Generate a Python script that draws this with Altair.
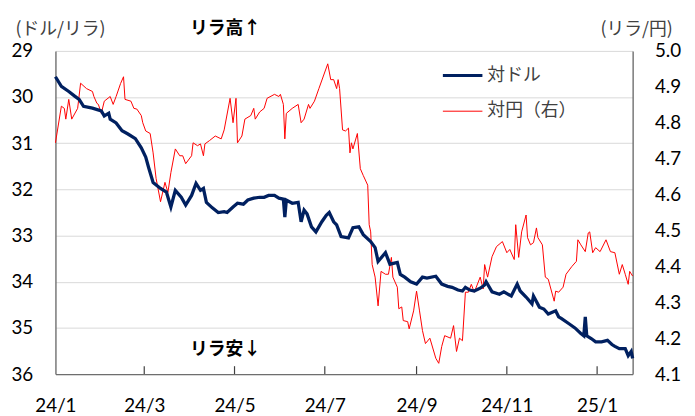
import altair as alt
import pandas as pd

# ---- data ----
# days since 2024-01-01
usd_days = [0, 4, 9, 13, 16, 19, 25, 31, 33, 36, 37, 41, 45, 49, 54, 58, 61, 63, 66, 71,
            75, 78, 81, 85, 88, 92, 95, 98, 100, 102, 106, 110, 114, 116, 120, 123, 127, 130, 134, 138,
            141, 144, 148, 151, 154, 155, 156, 160, 164, 166, 168, 170, 173, 176, 180, 183, 185, 188, 190, 193,
            198, 201, 205, 208, 213, 216, 218, 223, 226, 231, 233, 236, 240, 244, 248, 251, 257, 261, 265, 268,
            272, 275, 277, 280, 283, 287, 290, 291, 295, 300, 303, 308, 312, 314, 318, 322, 323, 327, 330, 333,
            338, 340, 342, 347, 351, 355, 357, 358, 359, 362, 365, 369, 373, 376, 378, 381, 385, 387, 389, 390]
usd_vals = [29.56, 29.77, 29.88, 29.98, 30.05, 30.20, 30.24, 30.30, 30.41, 30.35, 30.48, 30.56, 30.73, 30.80, 30.90, 31.10, 31.30, 31.53, 31.85, 31.98,
            32.06, 32.38, 32.02, 32.17, 32.34, 32.13, 31.87, 32.02, 31.98, 32.28, 32.40, 32.50, 32.48, 32.50, 32.38, 32.30, 32.32, 32.23, 32.19, 32.17,
            32.17, 32.13, 32.13, 32.19, 32.21, 32.60, 32.23, 32.30, 32.28, 32.70, 32.45, 32.53, 32.81, 32.92, 32.70, 32.56, 32.50, 32.70, 32.77, 33.02,
            33.05, 32.83, 32.81, 32.98, 33.13, 33.26, 33.56, 33.37, 33.62, 33.58, 33.84, 33.90, 34.00, 34.05, 33.90, 33.92, 33.88, 34.05, 34.10, 34.12,
            34.18, 34.20, 34.12, 34.18, 34.20, 34.14, 34.07, 34.00, 34.22, 34.27, 34.22, 34.31, 34.05, 34.20, 34.33, 34.48, 34.31, 34.55, 34.59, 34.70,
            34.63, 34.76, 34.80, 34.91, 35.00, 35.12, 35.17, 34.76, 35.17, 35.23, 35.30, 35.30, 35.27, 35.36, 35.40, 35.45, 35.45, 35.60, 35.51, 35.66]

jpy_days = [0, 4, 6, 7, 9, 11, 15, 17, 21, 25, 26, 28, 29, 31, 33, 37, 39, 41, 44, 46,
            47, 51, 53, 55, 58, 59, 61, 64, 66, 68, 71, 74, 76, 78, 81, 84, 86, 88, 92, 93,
            96, 98, 100, 101, 104, 108, 112, 114, 118, 120, 122, 123, 126, 128, 132, 134, 135, 138, 141, 143,
            148, 151, 152, 154, 155, 156, 160, 164, 166, 168, 171, 172, 175, 178, 184, 186, 188, 190, 191, 192,
            194, 196, 198, 199, 200, 201, 204, 206, 208, 211, 212, 213, 214, 216, 218, 220, 223, 225, 227, 228,
            231, 232, 234, 235, 238, 239, 242, 244, 246, 248, 250, 253, 257, 259, 261, 263, 267, 269, 271, 273,
            275, 277, 279, 281, 283, 287, 289, 290, 292, 295, 298, 302, 305, 307, 310, 311, 313, 315, 318, 319,
            321, 323, 325, 326, 329, 331, 333, 337, 338, 340, 343, 345, 349, 352, 353, 355, 358, 360, 361, 363,
            365, 368, 372, 375, 378, 381, 383, 385, 387, 388, 390]
jpy_vals = [4.744, 4.846, 4.840, 4.810, 4.865, 4.810, 4.840, 4.910, 4.895, 4.887, 4.873, 4.854, 4.851, 4.826, 4.860, 4.873, 4.851, 4.873, 4.909, 4.928,
            4.865, 4.860, 4.840, 4.838, 4.820, 4.800, 4.777, 4.770, 4.716, 4.645, 4.580, 4.634, 4.606, 4.661, 4.727, 4.708, 4.708, 4.686, 4.708, 4.744,
            4.736, 4.741, 4.708, 4.741, 4.750, 4.763, 4.755, 4.780, 4.868, 4.800, 4.868, 4.744, 4.763, 4.810, 4.820, 4.840, 4.810, 4.830, 4.840, 4.868,
            4.879, 4.873, 4.879, 4.851, 4.755, 4.826, 4.840, 4.851, 4.800, 4.810, 4.851, 4.840, 4.860, 4.895, 4.964, 4.920, 4.920, 4.895, 4.920, 4.895,
            4.780, 4.777, 4.785, 4.716, 4.744, 4.727, 4.770, 4.672, 4.653, 4.626, 4.516, 4.496, 4.405, 4.370, 4.290, 4.386, 4.378, 4.378, 4.425, 4.370,
            4.342, 4.282, 4.287, 4.249, 4.246, 4.226, 4.276, 4.331, 4.276, 4.221, 4.185, 4.200, 4.144, 4.130, 4.177, 4.207, 4.200, 4.235, 4.163, 4.200,
            4.193, 4.328, 4.328, 4.350, 4.328, 4.370, 4.337, 4.405, 4.370, 4.427, 4.455, 4.469, 4.438, 4.447, 4.419, 4.516, 4.425, 4.496, 4.543, 4.480,
            4.460, 4.466, 4.507, 4.480, 4.460, 4.370, 4.364, 4.303, 4.331, 4.328, 4.342, 4.378, 4.400, 4.414, 4.474, 4.460, 4.441, 4.493, 4.496, 4.438,
            4.452, 4.441, 4.474, 4.441, 4.438, 4.378, 4.405, 4.378, 4.350, 4.386, 4.373]

series_names = ["対ドル", "対円（右）"]
series_colors = ["#002060", "#ff0000"]
left_ticks = [29, 30, 31, 32, 33, 34, 35, 36]
right_ticks = [4.1, 4.2, 4.3, 4.4, 4.5, 4.6, 4.7, 4.8, 4.9, 5.0]
label_months = [(2024, 1), (2024, 3), (2024, 5), (2024, 7), (2024, 9), (2024, 11), (2025, 1)]
tick_dates = ["2024-03-01", "2024-05-01", "2024-07-01", "2024-09-01", "2024-11-01", "2025-01-01"]

start = pd.Timestamp("2024-01-01")
def to_dates(days):
    return [(start + pd.Timedelta(days=d)).strftime("%Y-%m-%d") for d in days]

usd = pd.DataFrame({"date": to_dates(usd_days), "value": usd_vals})
jpy = pd.DataFrame({"date": to_dates(jpy_days), "value": jpy_vals})
ticks_df = pd.DataFrame({"date": tick_dates})

W, H = 584, 327
CJK = "Noto Sans CJK JP"
NUM = "Lato"
AXC = "#6e6e6e"

xscale = alt.Scale(type="utc", domain=[alt.DateTime(year=2024, month=1, date=1, utc=True),
                                       alt.DateTime(year=2025, month=1, date=25, utc=True)])
xaxis = alt.Axis(values=[alt.DateTime(year=y, month=m, date=1, utc=True) for y, m in label_months],
                 labelExpr="utcFormat(datum.value, '%y/%-m')", title=None, ticks=False,
                 grid=False, domainColor=AXC, domainWidth=1.4, labelFont=NUM, labelFontSize=19,
                 labelColor="#000000", labelPadding=23, labelFlush=False, labelOverlap=False)

left_axis = alt.Axis(values=left_ticks, grid=True, gridColor="#d9d9d9", gridWidth=1, ticks=False,
                     domainColor=AXC, domainWidth=1.4, labelFont=NUM, labelFontSize=19,
                     labelColor="#000000", labelPadding=23,
                     title="(ドル/リラ)", titleAngle=0, titleAlign="left", titleBaseline="middle",
                     titleX=-41, titleY=-22, titleFont=CJK, titleFontSize=18, titleFontWeight="normal",
                     titleColor="#404040")
right_axis = alt.Axis(values=right_ticks, format=".1f", orient="right", grid=False, ticks=False,
                      domainColor=AXC, domainWidth=1.4, labelFont=NUM, labelFontSize=19,
                      labelColor="#000000", labelPadding=22,
                      title="(リラ/円)", titleAngle=0, titleAlign="left", titleBaseline="middle",
                      titleX=-33, titleY=-22, titleFont=CJK, titleFontSize=18, titleFontWeight="normal",
                      titleColor="#404040")

red = alt.Chart(jpy).mark_line(color=series_colors[1], strokeWidth=1).encode(
    x=alt.X("date:T", scale=xscale, axis=xaxis),
    y=alt.Y("value:Q", scale=alt.Scale(domain=[4.1, 5.0], nice=False, zero=False), axis=right_axis),
)
blue = alt.Chart(usd).mark_line(color=series_colors[0], strokeWidth=3.3).encode(
    x=alt.X("date:T", scale=xscale, axis=xaxis),
    y=alt.Y("value:Q", scale=alt.Scale(domain=[29, 36], reverse=True, nice=False, zero=False), axis=left_axis),
)
tick_rules = alt.Chart(ticks_df).mark_rule(color="#404040", strokeWidth=1.2).encode(
    x=alt.X("date:T", scale=xscale, axis=xaxis),
    y=alt.value(H - 8), y2=alt.value(H),
)

# legend (manual)
leg_df = pd.DataFrame({"name": series_names, "color": series_colors})
leg_blue = alt.Chart(leg_df.iloc[[0]]).mark_rule(strokeWidth=3).encode(
    x=alt.value(392), x2=alt.value(432), y=alt.value(25), color=alt.Color("color:N", scale=None))
leg_red = alt.Chart(leg_df.iloc[[1]]).mark_rule(strokeWidth=1).encode(
    x=alt.value(392), x2=alt.value(432), y=alt.value(61), color=alt.Color("color:N", scale=None))
leg_txt1 = alt.Chart(leg_df.iloc[[0]]).mark_text(align="left", baseline="middle", font=CJK, fontSize=18,
                                                  color="#404040").encode(
    x=alt.value(437), y=alt.value(25), text="name:N")
leg_txt2 = alt.Chart(leg_df.iloc[[1]]).mark_text(align="left", baseline="middle", font=CJK, fontSize=18,
                                                  color="#404040").encode(
    x=alt.value(437), y=alt.value(61), text="name:N")

ann_df = pd.DataFrame({"t": ["リラ高↑", "リラ安↓"]})
ann_hi = alt.Chart(ann_df.iloc[[0]]).mark_text(font=CJK, fontSize=18, fontWeight="bold", color="#000000",
                                               baseline="middle").encode(
    x=alt.value(172), y=alt.value(-22), text="t:N")
ann_lo = alt.Chart(ann_df.iloc[[1]]).mark_text(font=CJK, fontSize=18, fontWeight="bold", color="#000000",
                                               baseline="middle").encode(
    x=alt.value(172), y=alt.value(303), text="t:N")

left_layer = alt.layer(blue, tick_rules, leg_blue, leg_red, leg_txt1, leg_txt2, ann_hi, ann_lo)
chart = alt.layer(red, left_layer).resolve_scale(y="independent").properties(
    width=W, height=H,
    autosize=alt.AutoSizeParams(type="none"),
    padding={"left": 48, "top": 41, "right": 55, "bottom": 40},
).configure_view(strokeWidth=0)

chart.save("out.html", embed_options={"renderer": "svg", "actions": False})
